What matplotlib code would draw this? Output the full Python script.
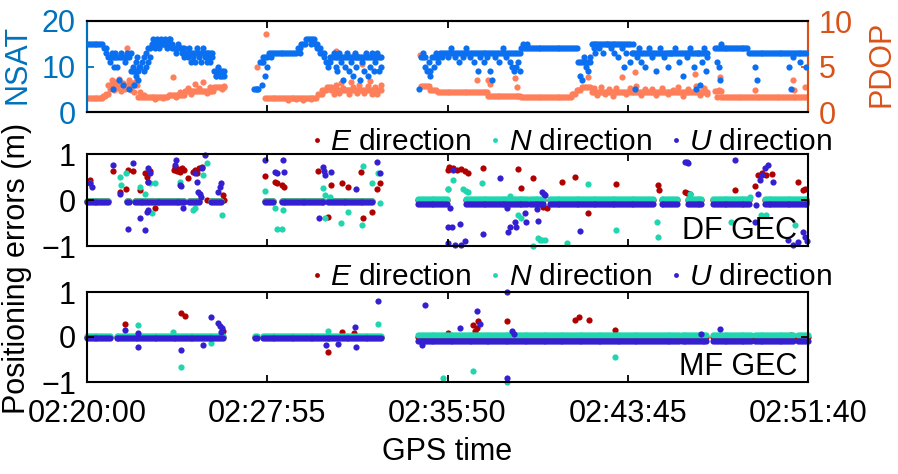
import numpy as np
import matplotlib
matplotlib.use("Agg")
import matplotlib.pyplot as plt
from matplotlib.lines import Line2D

plt.rcParams['font.family'] = ['Liberation Sans', 'DejaVu Sans']
plt.rcParams['mathtext.fontset'] = 'custom'
plt.rcParams['mathtext.it'] = 'Liberation Sans:italic'
plt.rcParams['mathtext.rm'] = 'Liberation Sans'
plt.rcParams['font.size'] = 22

# time axis: seconds after 02:20:00
xticks = [0, 475, 950, 1425, 1900]
xtick_labels = ["02:20:00", "02:27:55", "02:35:50", "02:43:45", "02:51:40"]
STEP = 5

# ---- NSAT / PDOP (main trace as runs, plus scattered epochs) ----
nsat_runs = [
    (0, 45, 15), (45, 55, 14), (55, 115, 12), (115, 140, 9), (140, 145, 10), (145, 150, 11),
    (150, 155, 12), (155, 160, 13), (160, 170, 14), (170, 230, 15), (230, 260, 14),
    (260, 335, 13), (335, 365, 9),
    (440, 455, 5), (455, 470, 11), (470, 480, 12), (480, 555, 13), (555, 565, 14),
    (565, 578, 15), (578, 600, 16), (600, 610, 15), (610, 620, 14), (620, 630, 13),
    (630, 645, 11), (645, 776, 12),
    (875, 880, 5), (880, 895, 12), (895, 910, 9), (910, 930, 12), (930, 1145, 13),
    (1145, 1295, 14), (1295, 1330, 11), (1330, 1435, 15), (1435, 1640, 13),
    (1655, 1745, 14), (1745, 1900, 13),
]
nsat_extra = [
    (50, 13), (60, 11), (65, 13), (68, 5), (70, 10), (75, 13), (80, 10), (85, 7), (90, 13),
    (95, 6), (100, 11), (105, 13), (110, 5), (115, 13), (120, 10), (125, 6), (128, 11),
    (130, 8), (133, 12), (135, 7), (138, 10), (150, 9), (155, 10), (160, 11), (165, 12),
    (175, 16), (180, 14), (185, 16), (190, 14), (195, 16), (200, 15), (205, 16), (210, 14),
    (215, 16), (220, 16), (225, 14), (235, 13), (240, 15), (250, 13), (255, 12), (265, 12),
    (270, 14), (275, 11), (280, 12), (285, 11), (290, 14), (295, 12), (300, 11), (305, 14),
    (310, 12), (315, 11), (320, 12), (325, 11), (330, 12), (340, 8), (345, 10), (350, 8),
    (355, 8), (360, 8),
    (447, 5), (461, 6), (465, 12), (470, 8), (475, 10), (485, 12), (560, 13), (590, 15),
    (605, 14), (615, 13), (625, 12), (635, 10), (640, 12), (650, 13), (655, 10), (660, 9),
    (665, 13), (670, 11), (675, 7), (680, 10), (685, 13), (690, 9), (695, 11), (700, 8),
    (705, 13), (710, 10), (715, 12), (720, 7), (725, 11), (730, 9), (735, 13), (740, 8),
    (745, 10), (750, 13), (755, 9), (760, 11), (765, 13), (770, 9), (775, 10),
    (885, 13), (890, 10), (900, 11), (905, 8), (915, 10), (920, 13), (925, 11), (935, 12),
    (950, 12), (960, 14), (970, 12), (980, 11), (990, 12), (1000, 14), (1010, 12),
    (1020, 11), (1030, 9), (1035, 12), (1045, 11), (1055, 12), (1062, 9), (1066, 7),
    (1075, 12), (1085, 11), (1095, 14), (1105, 12), (1115, 11), (1120, 10), (1125, 9),
    (1130, 10), (1135, 11), (1140, 9), (1150, 15), (1160, 15), (1300, 8), (1305, 7),
    (1310, 12), (1315, 10), (1320, 9), (1325, 12), (1335, 14), (1340, 13), (1350, 14),
    (1360, 13), (1370, 15), (1380, 14), (1390, 13), (1400, 12), (1410, 14), (1415, 10),
    (1420, 13), (1430, 11), (1440, 15), (1445, 5), (1450, 12), (1455, 14), (1460, 11),
    (1470, 10), (1480, 14), (1490, 12), (1500, 9), (1510, 14), (1520, 12), (1530, 10),
    (1540, 13), (1550, 14), (1560, 11), (1570, 8), (1580, 12), (1590, 14), (1600, 10),
    (1605, 5), (1610, 13), (1615, 6), (1620, 11), (1625, 14), (1630, 9), (1635, 12),
    (1660, 11), (1665, 10), (1668, 7), (1672, 15), (1760, 10), (1765, 7), (1850, 10),
    (1855, 5), (1860, 12), (1880, 11), (1895, 10),
]
pdop_runs = [
    (0, 43, 1.5), (43, 50, 1.8), (50, 56, 2.0), (56, 135, 3.0), (135, 215, 1.6),
    (215, 258, 1.9), (258, 335, 2.3), (335, 365, 2.7),
    (469, 609, 1.5), (609, 620, 2.0), (620, 632, 2.4), (632, 644, 2.7), (644, 776, 2.4),
    (880, 905, 2.9), (905, 925, 2.4), (925, 1057, 2.2), (1057, 1145, 1.8), (1145, 1277, 1.7),
    (1277, 1290, 2.0), (1290, 1305, 2.4), (1305, 1330, 2.8), (1330, 1640, 2.2),
    (1655, 1672, 2.3), (1672, 1900, 1.7),
]
pdop_extra = [
    (60, 2.5), (65, 3.5), (70, 2.4), (75, 3.3), (80, 2.6), (85, 3.6), (90, 2.3), (95, 3.2),
    (100, 2.5), (105, 7.0), (110, 3.5), (115, 2.4), (120, 3.2), (125, 2.2), (130, 3.4),
    (140, 2.2), (150, 1.9), (180, 1.4), (200, 1.5), (227, 3.85), (235, 1.7), (245, 2.2),
    (265, 2.6), (275, 2.0), (285, 3.1), (295, 2.6), (305, 3.3), (315, 2.1), (325, 2.8),
    (340, 4.0), (350, 4.0), (355, 2.5), (360, 2.9),
    (447, 4.9), (473, 8.55), (530, 1.3), (550, 1.4), (570, 1.3), (590, 1.4), (650, 2.0),
    (655, 3.0), (657, 6.7), (665, 2.1), (670, 3.2), (675, 2.6), (684, 6.2), (690, 2.0),
    (695, 3.3), (700, 2.7), (706, 6.4), (712, 2.1), (718, 3.0), (724, 5.3), (730, 2.1),
    (740, 2.9), (745, 3.4), (750, 2.0), (760, 2.8), (765, 2.0), (772, 6.05), (775, 3.0),
    (877, 6.3), (1027, 3.5), (1057, 3.5), (1062, 3.1), (1128, 3.7), (1132, 2.7),
    (1321, 3.85), (1335, 2.6), (1345, 1.9), (1355, 2.7), (1365, 2.0), (1375, 2.5),
    (1385, 1.8), (1395, 2.6), (1409, 3.85), (1420, 2.0), (1430, 2.6), (1444, 4.4),
    (1448, 2.9), (1460, 1.9), (1470, 2.5), (1488, 2.55), (1500, 1.9), (1515, 2.6),
    (1530, 2.0), (1545, 2.4), (1558, 2.7), (1570, 1.8), (1585, 2.5), (1602, 4.2),
    (1606, 2.9), (1615, 1.9), (1625, 2.6), (1635, 2.0), (1660, 1.7), (1665, 2.4),
    (1668, 3.85), (1760, 2.4), (1861, 3.5), (1863, 2.4), (1892, 2.7),
]

# ---- DF GEC positioning errors ----
df_segments = [(0, 60), (105, 113), (126, 258), (270, 300), (328, 355), (469, 490),
               (513, 627), (636, 754), (873, 952), (1000, 1163), (1167, 1207), (1220, 1461),
               (1466, 1492), (1514, 1558), (1584, 1624), (1650, 1747), (1786, 1900)]
df_E_level = [-0.03] * 8 + [0.0] * 9
df_N_level = [-0.02] * 8 + [0.03] * 9
df_U_level = [-0.05] * 8 + [-0.09] * 9
df_E_out = [
    (8, 0.43), (69, 0.62), (87, 0.18), (104, 0.25), (109, 0.65), (122, 0.62), (140, 0.22),
    (153, 0.58), (157, 0.5), (160, 0.4), (165, 0.62), (179, -0.18), (228, 0.66), (232, 0.72),
    (236, 0.62), (240, 0.68), (245, 0.6), (250, 0.7), (255, 0.66), (267, 0.47), (280, 0.6),
    (285, 0.66), (290, 0.58), (295, 0.69), (302, 0.72), (315, 0.0), (359, 0.11), (362, 0.0),
    (469, 0.52), (495, 0.4), (500, 0.36), (515, 0.33), (520, 0.29), (609, 0.64),
    (634, -0.36), (644, 0.33), (671, 0.36), (688, 0.29), (723, 0.6), (728, -0.4),
    (750, -0.27), (763, 0.23), (772, 0.36), (950, 0.65),
    (955, 0.72), (965, 0.7), (975, 0.66), (985, 0.68), (995, 0.62), (1005, 0.58),
    (1044, 0.69), (1136, 0.67), (1145, 0.27), (1176, 0.47), (1202, -0.15), (1211, -0.18),
    (1252, 0.4), (1286, 0.5), (1321, -0.29), (1393, 0.35), (1505, 0.33), (1507, 0.22),
    (1576, 0.18), (1582, 0.16), (1589, 0.14), (1707, 0.22), (1760, 0.3), (1769, 0.54),
    (1780, 0.58), (1790, 0.55), (1804, 0.56), (1874, 0.4), (1886, 0.22), (1892, 0.24),
    (1896, -0.04),
]
df_N_out = [
    (8, 0.36), (87, 0.49), (90, 0.33), (104, 0.58), (140, 0.29), (153, 0.14), (165, 0.36),
    (170, -0.29), (179, 0.36), (245, 0.4), (280, -0.22), (285, -0.18), (306, 0.54),
    (315, 0.8), (355, -0.33),
    (469, 0.2), (495, -0.18), (500, -0.62), (513, -0.62), (517, -0.22), (622, 0.27),
    (627, 0.11), (627, -0.4), (640, 0.07), (669, -0.49), (688, -0.25), (725, -0.54),
    (728, 0.74), (750, 0.38), (767, 0.58), (772, -0.06), (950, 0.23),
    (952, 0.23), (965, 0.43), (991, 0.25), (998, 0.2), (1005, 0.18), (1040, 0.36),
    (1115, 0.09), (1136, -0.33), (1145, -0.4), (1176, -1.0), (1189, -0.83), (1195, -0.86),
    (1200, -0.88), (1207, -0.87), (1264, -0.93), (1321, 0.35), (1393, -0.65),
    (1501, -0.47), (1505, -0.8), (1589, 0.13), (1698, -0.47), (1747, 0.07), (1777, -0.33),
    (1790, -0.32), (1865, -0.54),
]
df_U_out = [
    (8, 0.36), (12, 0.29), (69, 0.76), (87, 0.14), (109, -0.62), (122, 0.8), (140, -0.4),
    (153, -0.65), (157, -0.25), (162, -0.22), (160, 0.4), (162, 0.69), (166, 0.58),
    (232, 0.76), (235, 0.87), (245, 0.33), (249, 0.3), (254, -0.18), (284, 0.58),
    (290, 0.4), (293, 0.18), (297, 0.14), (300, 0.07), (302, 0.69), (311, 0.98),
    (346, 0.18), (350, 0.29), (352, 0.36),
    (469, 0.87), (495, 0.61), (500, 0.58), (517, 0.87), (520, 0.61), (611, -0.4),
    (622, 0.72), (625, 0.63), (627, 0.54), (644, 0.61), (710, 0.23), (763, 0.83),
    (772, 0.58), (952, -0.58), (952, -0.94),
    (957, -0.18), (961, -0.58), (965, 0.65), (970, -0.98), (983, -0.52), (985, -0.98),
    (996, -0.9), (1044, -0.73), (1088, 0.47), (1106, -0.18), (1110, -0.7), (1115, -0.58),
    (1128, -0.47), (1130, -0.58), (1154, -0.29), (1158, -0.47), (1185, -0.2),
    (1189, -0.45), (1198, 0.18), (1203, 0.14), (1207, 0.1), (1299, -0.67), (1575, 0.83),
    (1580, 0.82), (1584, 0.8), (1707, 0.88), (1760, -0.47), (1764, -0.11), (1769, 0.14),
    (1773, 0.43), (1780, 0.55), (1788, 0.7), (1795, 0.76), (1808, 0.4), (1848, -0.87),
    (1860, -0.98), (1874, -0.92), (1887, -0.69), (1892, -0.8), (1898, -0.9),
]

# ---- MF GEC positioning errors ----
mf_segments = [(0, 65), (78, 363), (442, 451), (464, 776), (873, 1496), (1500, 1562),
               (1567, 1637), (1650, 1755), (1760, 1865), (1874, 1900)]
mf_E_level = [0.0] * 10
mf_N_level = [0.02] * 4 + [0.04] * 6
mf_U_level = [-0.03] * 4 + [-0.08] * 6
mf_E_out = [(100, 0.29), (249, 0.53), (258, 0.46), (359, 0.14), (634, -0.33), (671, 0.11),
            (704, 0.1), (952, 0.1), (1018, 0.26), (1022, 0.13), (1027, 0.2), (1031, 0.35),
            (1106, 0.35), (1286, 0.37), (1296, 0.44), (1323, 0.37), (1391, 0.15), (1856, 0.04)]
mf_N_out = [(135, 0.26), (227, 0.11), (249, -0.66), (328, -0.13), (634, 0.14), (767, 0.29),
            (938, -0.9), (1018, -0.75), (1106, -1.0), (1391, -0.45)]
mf_U_out = [(100, 0.16), (135, 0.1), (135, -0.23), (249, -0.29), (306, -0.17), (328, 0.44),
            (346, 0.31), (350, 0.25), (352, 0.12), (355, 0.2), (631, -0.17), (662, -0.15),
            (706, 0.22), (710, -0.23), (767, 0.81), (882, -0.17), (890, 0.72), (983, 0.2),
            (1027, 0.58), (1036, 0.28), (1106, 1.0), (1106, -0.91), (1119, 0.13),
            (1124, 0.07), (1619, 0.07), (1668, 0.18)]

c_nsat = '#0a6ff0'
c_pdop = '#ff7f5a'
c_nsat_lab = '#0072BD'
c_pdop_lab = '#D95319'
c_E = '#b00000'
c_N = '#1fd6ae'
c_U = '#3420d0'
MS = 20


def expand(runs):
    t, v = [], []
    for t0, t1, val in runs:
        tt = np.arange(t0, t1, STEP)
        t.append(tt)
        v.append(np.full(len(tt), val, dtype=float))
    return np.concatenate(t), np.concatenate(v)


def series(runs, extra):
    t, v = expand(runs)
    if extra:
        et, ev = zip(*extra)
        t = np.concatenate([t, et])
        v = np.concatenate([v, ev])
    return t, v


fig = plt.figure(figsize=(8.98, 4.74), dpi=100)
W, H = 898, 474
L, R = 87, 808


def add_axes(top, bottom):
    return fig.add_axes([L / W, 1 - bottom / H, (R - L) / W, (bottom - top) / H])


def style(ax):
    ax.set_xlim(0, 1900)
    ax.set_xticks(xticks)
    ax.tick_params(direction='in', length=5, width=1.3, top=True, right=True, pad=8)
    for s in ax.spines.values():
        s.set_linewidth(1.5)


# top panel
ax0 = add_axes(21, 112)
ax1 = ax0.twinx()
t, v = series(nsat_runs, nsat_extra)
ax0.scatter(t, v, s=MS, color=c_nsat, lw=0, zorder=3)
t, v = series(pdop_runs, pdop_extra)
ax1.scatter(t, v, s=MS, color=c_pdop, lw=0, zorder=2)
ax0.set_zorder(ax1.get_zorder() + 1)
ax0.patch.set_visible(False)
for ax in (ax0, ax1):
    ax.set_xlim(0, 1900)
    ax.set_xticks(xticks)
    ax.set_xticklabels([])
    for s in ax.spines.values():
        s.set_linewidth(1.5)
ax0.set_ylim(0, 20)
ax0.set_yticks([0, 10, 20])
ax1.set_ylim(0, 10)
ax1.set_yticks([0, 5, 10])
ax0.tick_params(axis='x', direction='in', length=5, width=1.3, top=True)
ax0.tick_params(axis='y', direction='in', length=5, width=1.3, colors=c_nsat_lab, pad=8)
ax1.tick_params(axis='y', direction='in', length=5, width=1.3, colors=c_pdop_lab, pad=8)
ax1.spines['left'].set_color(c_nsat_lab)
ax1.spines['right'].set_color(c_pdop_lab)
ax0.spines['left'].set_color(c_nsat_lab)
ax0.spines['right'].set_color(c_pdop_lab)
fig.text(17 / W, 1 - 64 / H, 'NSAT', color=c_nsat_lab, rotation=90, ha='center', va='center')
fig.text(881 / W, 1 - 64 / H, 'PDOP', color=c_pdop_lab, rotation=90, ha='center', va='center')

labels = [r'$\mathit{E}$ direction', r'$\mathit{N}$ direction', r'$\mathit{U}$ direction']
handles = [Line2D([], [], ls='', marker='o', markersize=3.5, color=c, markeredgewidth=0)
           for c in (c_E, c_N, c_U)]


def error_panel(top, bottom, segs, levels, outs, tag, leg_y):
    ax = add_axes(top, bottom)
    for lev, out, c in zip(levels, outs, (c_E, c_N, c_U)):
        t, v = series([(a, b, l) for (a, b), l in zip(segs, lev)], out)
        ax.scatter(t, v, s=MS, color=c, lw=0, clip_on=False)
    ax.set_ylim(-1, 1)
    ax.set_yticks([-1, 0, 1])
    style(ax)
    ax.text(0.985, 0.0, tag, transform=ax.transAxes, ha='right', va='bottom')
    ax.legend(handles, labels, ncol=3, frameon=False, loc='lower right',
              bbox_to_anchor=(832 / W, 1 - leg_y / H), bbox_transform=fig.transFigure,
              handlelength=0.5, handletextpad=0.2, columnspacing=0.55, borderaxespad=0,
              borderpad=0, fontsize=21.5)
    return ax


ax2 = error_panel(154, 246, df_segments, (df_E_level, df_N_level, df_U_level),
                  (df_E_out, df_N_out, df_U_out), 'DF GEC', 156)
ax2.set_xticklabels([])
ax3 = error_panel(292, 382, mf_segments, (mf_E_level, mf_N_level, mf_U_level),
                  (mf_E_out, mf_N_out, mf_U_out), 'MF GEC', 291)
ax3.set_xticklabels(xtick_labels)
ax3.tick_params(axis='x', pad=12)
fig.text(17 / W, 1 - 268 / H, 'Positioning errors (m)', rotation=90, ha='center', va='center')
fig.text(447 / W, 1 - 452 / H, 'GPS time', ha='center', va='center')

fig.savefig('out.png', dpi=100)
